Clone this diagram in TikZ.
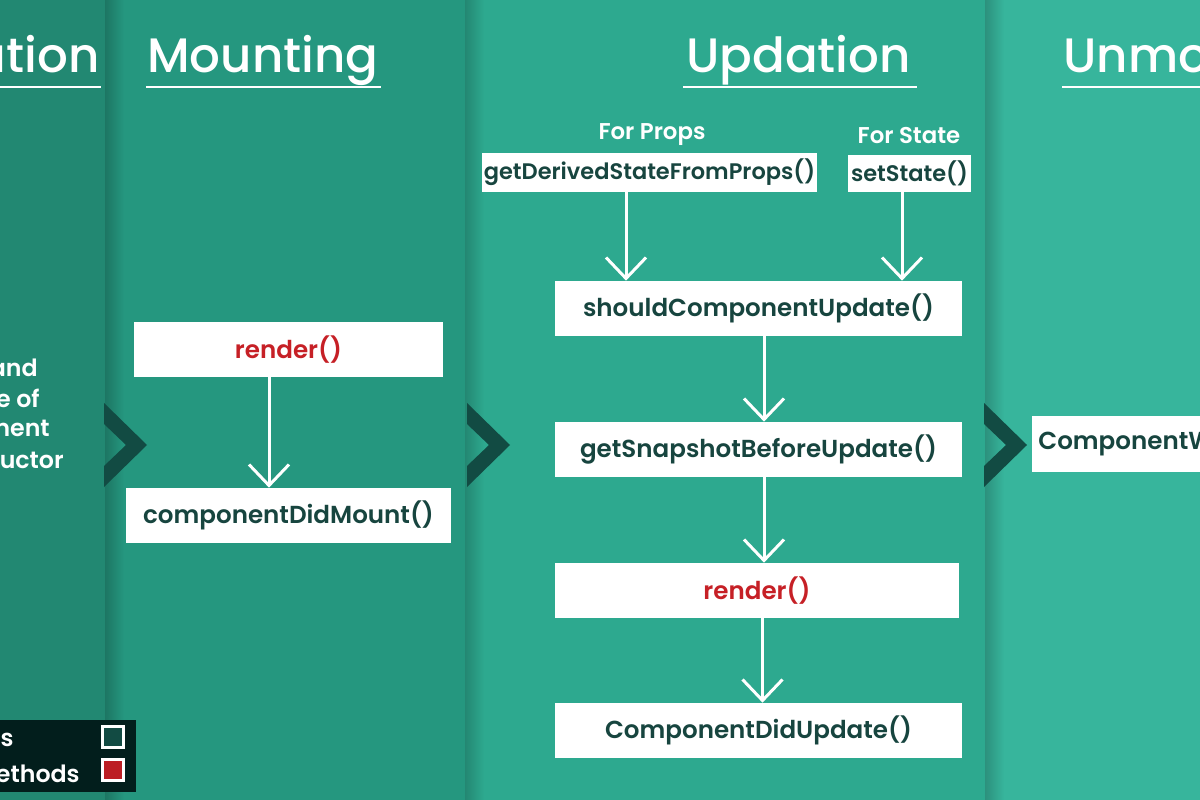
\documentclass[tikz,border=0pt]{standalone}
\usepackage{fontspec}
\setmainfont{Poppins}
\newfontfamily\medfont{Poppins Medium}
\newfontfamily\semifont{Poppins SemiBold}
\usetikzlibrary{arrows.meta}

\definecolor{panelA}{HTML}{228872}
\definecolor{panelB}{HTML}{25977F}
\definecolor{panelC}{HTML}{2DA98F}
\definecolor{panelD}{HTML}{37B59C}
\definecolor{chevcol}{HTML}{124B43}
\definecolor{boxtext}{HTML}{17453F}
\definecolor{hookred}{HTML}{C62026}
\definecolor{legendbg}{HTML}{021E1C}

\begin{document}
\begin{tikzpicture}[x=0.02cm,y=-0.02cm,
  fnbox/.style={fill=white,inner sep=0pt,minimum height=1.1cm,text=boxtext,font=\semifont\fontsize{14}{16}\selectfont},
  smallbox/.style={fnbox,minimum height=0.77cm,font=\semifont\fontsize{12.8}{15}\selectfont},
  redfn/.style={text=hookred},
  heading/.style={inner sep=0pt,text=white,font=\medfont\fontsize{27.5}{32}\selectfont},
  sidetext/.style={inner sep=0pt,anchor=base east,text=white,font=\semifont\fontsize{13.5}{16}\selectfont},
  hint/.style={inner sep=0pt,text=white,font=\semifont\fontsize{13}{15}\selectfont},
  uline/.style={white,line width=1.4pt},
  flow/.style={white,line width=1.7pt,-{Straight Barb[length=4.2mm,width=8mm,line width=1.7pt]}},
  legsq/.style={draw=white,line width=1.3pt,minimum size=0.42cm,inner sep=0pt}]
  \useasboundingbox (0,0) rectangle (1200,800);
  \clip (0,0) rectangle (1200,800);

  % panels
  \fill[panelA] (0,0) rectangle (105,800);
  \fill[panelB] (105,0) rectangle (465,800);
  \fill[panelC] (465,0) rectangle (985,800);
  \fill[panelD] (985,0) rectangle (1200,800);
  \shade[left color=panelB!78!black,right color=panelB] (105,0) rectangle (124,800);
  \shade[left color=panelC!80!black,right color=panelC] (465,0) rectangle (484,800);
  \shade[left color=panelD!80!black,right color=panelD] (985,0) rectangle (1004,800);

  % chevrons
  \foreach \cx in {104,467,984}
    \fill[chevcol] (\cx,403) -- ++(43,42) -- ++(-43,42) -- ++(0,-21) -- ++(22,-21) -- ++(-22,-21) -- cycle;

  % headings
  \node[heading,anchor=base east] (hinit) at (100,73) {ation};
  \node[heading,anchor=base west] (hmount) at (147,73) {Mounting};
  \node[heading,anchor=base west] (hupdate) at (686,73) {Updation};
  \node[heading,anchor=base west] (hunmount) at (1063,73) {Unmo};
  \draw[uline] ([yshift=-0.28cm]hinit.base east -| 0,0) -- ([xshift=0.02cm,yshift=-0.28cm]hinit.base east);
  \draw[uline] ([xshift=-0.02cm,yshift=-0.28cm]hmount.base west) -- ([xshift=0.04cm,yshift=-0.28cm]hmount.base east);
  \draw[uline] ([xshift=-0.06cm,yshift=-0.28cm]hupdate.base west) -- ([xshift=0.12cm,yshift=-0.28cm]hupdate.base east);
  \draw[uline] ([xshift=-0.02cm,yshift=-0.28cm]hunmount.base west) -- ([yshift=-0.28cm]hunmount.base west -| 1200,0);

  % initialization
  \node[sidetext] (init1) at (38,377) {and};
  \node[sidetext] (init2) at (40,407) {e of};
  \node[sidetext] (init3) at (50,437) {ment};
  \node[sidetext] (init4) at (64,468) {uctor};

  % mounting
  \node[fnbox,redfn,minimum width=6.18cm] (mrender) at (288.5,349.5) {render()};
  \node[fnbox,minimum width=6.5cm] (mdid) at (288.5,515.5) {componentDidMount()};
  \draw[flow] ([xshift=-0.39cm]mrender.south) -- ([xshift=-0.39cm]mrender.south |- mdid.north);

  % updation
  \node[hint] (forprops) at (652,135) {For Props};
  \node[hint] (forstate) at (909,136) {For State};
  \node[smallbox,minimum width=6.7cm] (derived) at (649.5,172.5) {getDerivedStateFromProps()};
  \node[smallbox,minimum width=2.46cm,minimum height=0.74cm] (setst) at (909.5,173.5) {setState()};
  \node[fnbox,minimum width=8.14cm] (should) at (758.5,308.5) {shouldComponentUpdate()};
  \node[fnbox,minimum width=8.14cm] (snap) at (758.5,449.5) {getSnapshotBeforeUpdate()};
  \node[fnbox,redfn,minimum width=8.08cm] (urender) at (757,590.5) {render()};
  \node[fnbox,minimum width=8.14cm] (didupd) at (758.5,730.5) {ComponentDidUpdate()};
  \draw[flow] ([xshift=-0.47cm]derived.south) -- ([xshift=-0.47cm]derived.south |- should.north);
  \draw[flow] ([xshift=-0.15cm]setst.south) -- ([xshift=-0.15cm]setst.south |- should.north);
  \draw[flow] ([xshift=0.11cm]should.south) -- ([xshift=0.11cm]should.south |- snap.north);
  \draw[flow] ([xshift=0.11cm]snap.south) -- ([xshift=0.11cm]snap.south |- urender.north);
  \draw[flow] ([xshift=0.11cm]urender.south) -- ([xshift=0.11cm]urender.south |- didupd.north);

  % unmounting
  \node[fnbox,anchor=west,minimum width=8cm,minimum height=1.12cm,text width=7.76cm,align=left] (unmount) at (1032,444) {ComponentW};

  % legend
  \fill[legendbg] (0,720) rectangle (136,792);
  \node[sidetext] (leg1) at (14,746) {s};
  \node[sidetext] (leg2) at (80,782) {ethods};
  \node[legsq,fill=chevcol] (sq1) at (113,737) {};
  \node[legsq,fill=hookred!95!black] (sq2) at (113,770) {};
\end{tikzpicture}
\end{document}
